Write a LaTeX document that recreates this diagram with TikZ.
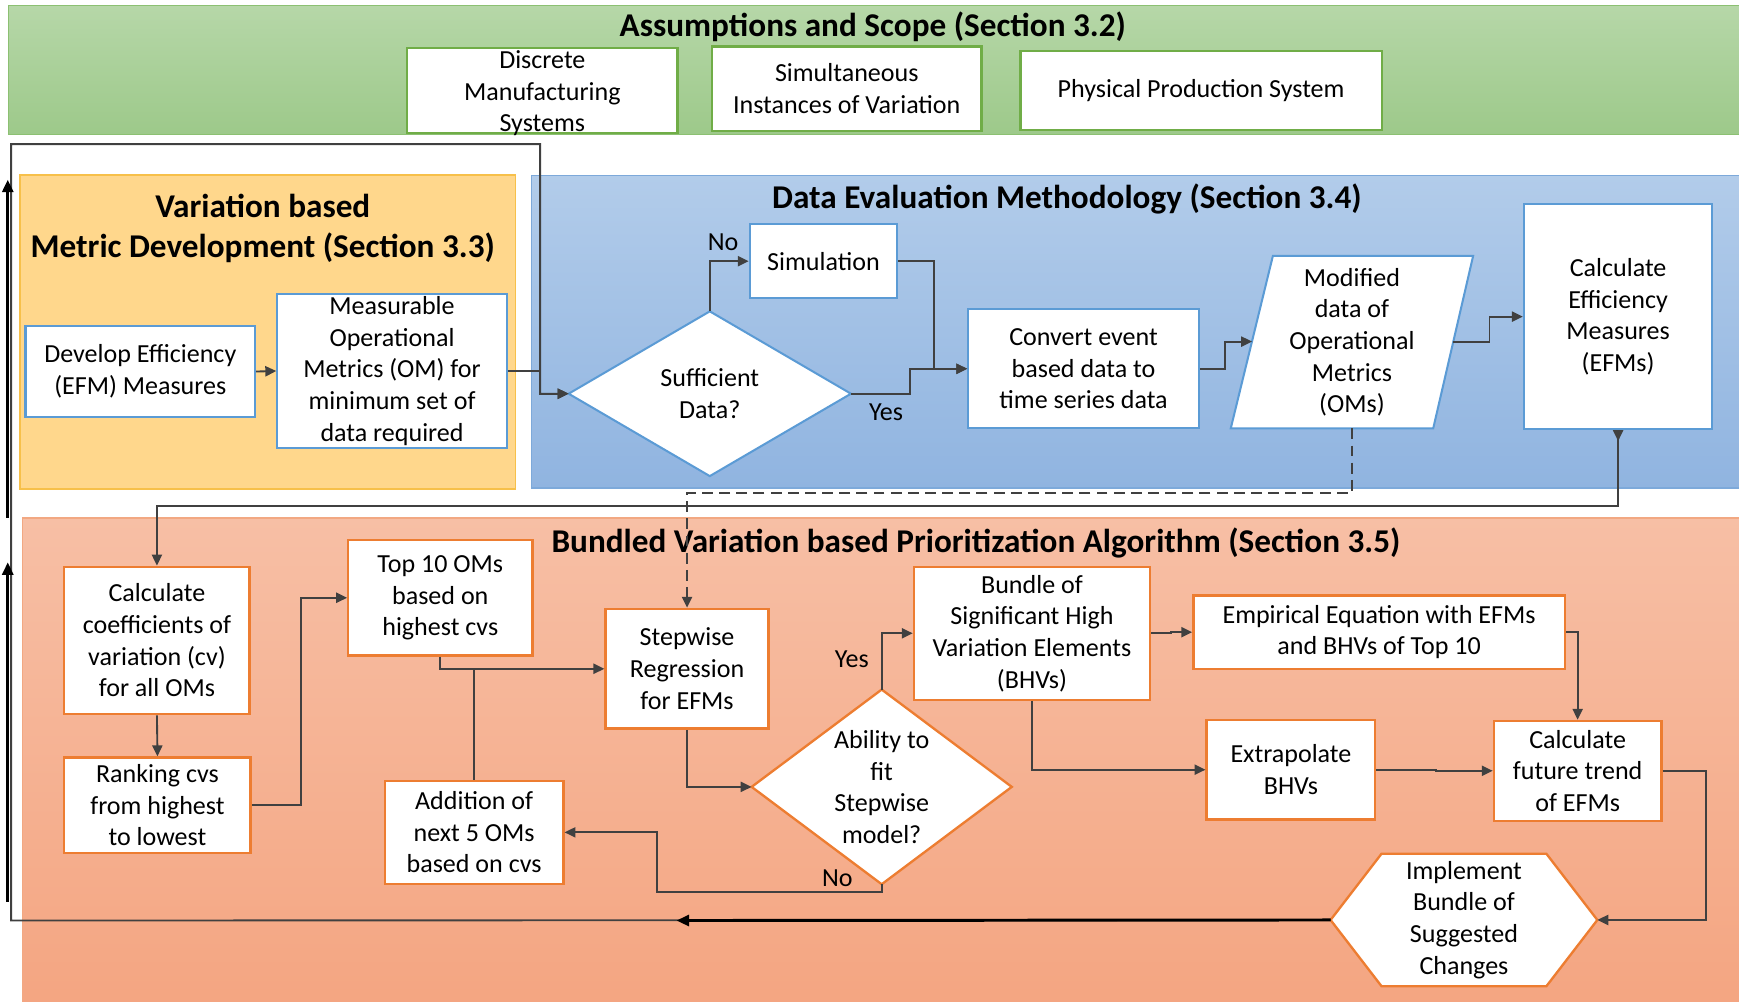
\documentclass[tikz,border=0pt]{standalone}
\usepackage{fontspec}
\setmainfont{Carlito}
\usetikzlibrary{arrows.meta,calc}

\definecolor{grnTop}{HTML}{B6D7A8}
\definecolor{grnBot}{HTML}{9DC98A}
\definecolor{grnEdge}{HTML}{8CC072}
\definecolor{ylwFill}{HTML}{FFD78C}
\definecolor{ylwEdge}{HTML}{F7C04A}
\definecolor{bluTop}{HTML}{B2CCEA}
\definecolor{bluBot}{HTML}{90B4E0}
\definecolor{bluEdge}{HTML}{7DA9DA}
\definecolor{orgTop}{HTML}{F7BFA5}
\definecolor{orgBot}{HTML}{F4A581}
\definecolor{orgEdge}{HTML}{F2A882}
\definecolor{boxBlue}{HTML}{5B9BD5}
\definecolor{boxOrange}{HTML}{ED7D31}
\definecolor{boxGreen}{HTML}{70AD47}
\definecolor{lineGray}{HTML}{404040}

\newcommand\bodyfont{\fontsize{16.7}{20.3}\selectfont}
\newcommand\titlefont{\fontsize{21.3}{25.6}\selectfont\bfseries}

\begin{document}
\begin{tikzpicture}[x=0.025cm,y=-0.025cm,
  % a node spanning the corners (#1,#2) and (#3,#4)
  span/.style n args={4}{at={($(#1,#2)!0.5!(#3,#4)$)},
    minimum width={(#3-#1)*0.025cm},minimum height={(#4-#2)*0.025cm}},
  tip/.style={-{Triangle[length=7pt,width=6.5pt]}},
  conn/.style={draw=lineGray,line width=1.2pt,tip},
  boxbase/.style={draw,fill=white,inner sep=0pt,align=center,font=\bodyfont},
  bluebox/.style={boxbase,draw=boxBlue,line width=1.3pt},
  orangebox/.style={boxbase,draw=boxOrange,line width=1.5pt},
  greenbox/.style={boxbase,draw=boxGreen,line width=1.5pt},
  frame/.style={inner sep=0pt},
  txt/.style={align=center,font=\bodyfont,inner sep=0pt},
  ttl/.style={align=center,font=\titlefont,inner sep=0pt},
]
\useasboundingbox (0,0) rectangle (1568,903);

% ---- section bands ----
\draw[draw=grnEdge,line width=0.8pt,top color=grnTop,bottom color=grnBot] (8,5) rectangle (1575,121);
\draw[draw=ylwEdge,line width=1pt,fill=ylwFill] (18,158) rectangle (465,441);
\draw[draw=bluEdge,line width=0.8pt,top color=bluTop,bottom color=bluBot] (479,158) rectangle (1575,440);
\draw[draw=orgEdge,line width=0.8pt,top color=orgTop,bottom color=orgBot] (20,467) rectangle (1575,910);

% ---- section titles ----
\node[ttl] (tA) at (787,24) {Assumptions and Scope (Section 3.2)};
\node[ttl] (tM) at (237,206) {Variation based\\Metric Development (Section 3.3)};
\node[ttl] (tD) at (962,179) {Data Evaluation Methodology (Section 3.4)};
\node[ttl] (tB) at (880,490) {Bundled Variation based Prioritization Algorithm (Section 3.5)};

% ---- assumptions ----
\node[greenbox,span={367}{43}{611}{120}] (dms) {};
\node[txt] (dmsT) at (489,84) {Discrete\\Manufacturing\\Systems};
\node[greenbox,span={642}{42}{885}{118}] (siv) {Simultaneous\\Instances of Variation};
\node[greenbox,span={920}{46}{1246}{117}] (pps) {Physical Production System};

% ---- metric development ----
\node[bluebox,span={23}{294}{230}{376}] (dev) {Develop Efficiency\\(EFM) Measures};
\node[bluebox,span={250}{265}{457}{404}] (meas) {Measurable\\Operational\\Metrics (OM) for\\minimum set of\\data required};

% ---- data evaluation ----
\node[bluebox,span={676}{202}{809}{269}] (sim) {Simulation};
\node[frame,span={513}{281}{767}{429}] (suf) {};
\draw[draw=boxBlue,line width=1.3pt,fill=white] (suf.west) -- (suf.north) -- (suf.east) -- (suf.south) -- cycle;
\node[txt] (sufT) at (suf.center) {Sufficient\\Data?};
\node[bluebox,span={873}{279}{1081}{386}] (conv) {Convert event\\based data to\\time series data};
\node[frame,span={1110}{231}{1328}{386}] (mod) {};
\draw[draw=boxBlue,line width=1.3pt,fill=white]
  ($(mod.north west)+(38,0)$) -- (mod.north east) -- ($(mod.south east)+(-36,0)$) -- (mod.south west) -- cycle;
\node[txt] (modT) at (mod.center) {Modified\\data of\\Operational\\Metrics\\(OMs)};
\coordinate (modL) at (1129,308);
\coordinate (modR) at (1310,308);
\node[bluebox,span={1374}{184}{1544}{387}] (efm) {Calculate\\Efficiency\\Measures\\(EFMs)};

% ---- prioritization algorithm ----
\node[orangebox,span={58}{511}{225}{644}] (coef) {Calculate\\coefficients of\\variation (cv)\\for all OMs};
\node[orangebox,span={58}{683}{226}{769}] (rank) {Ranking cvs\\from highest\\to lowest};
\node[orangebox,span={314}{487}{480}{591}] (top) {Top 10 OMs\\based on\\highest cvs};
\node[orangebox,span={546}{549}{693}{657}] (sw) {Stepwise\\Regression\\for EFMs};
\node[orangebox,span={347}{704}{508}{797}] (add) {Addition of\\next 5 OMs\\based on cvs};
\node[frame,span={678}{622}{912}{797}] (fit) {};
\draw[draw=boxOrange,line width=1.5pt,fill=white] (fit.west) -- (fit.north) -- (fit.east) -- (fit.south) -- cycle;
\node[txt] (fitT) at (fit.center) {Ability to\\fit\\Stepwise\\model?};
\node[orangebox,span={824}{511}{1037}{631}] (bun) {Bundle of\\Significant High\\Variation Elements\\(BHVs)};
\node[orangebox,span={1076}{537}{1411}{603}] (emp) {Empirical Equation with EFMs\\and BHVs of Top 10};
\node[orangebox,span={1088}{649}{1240}{739}] (ext) {Extrapolate\\BHVs};
\node[orangebox,span={1347}{650}{1498}{740}] (fut) {Calculate\\future trend\\of EFMs};
\node[frame,span={1200}{770}{1440}{889}] (hex) {};
\draw[draw=boxOrange,line width=1.5pt,fill=white]
  (hex.west) -- ($(hex.north west)+(46,0)$) -- ($(hex.north east)+(-46,0)$) -- (hex.east)
  -- ($(hex.south east)+(-46,0)$) -- ($(hex.south west)+(46,0)$) -- cycle;
\node[txt] (hexT) at (hex.center) {Implement\\Bundle of\\Suggested\\Changes};

% ---- branch labels ----
\node[txt] (lNo1) at (652,218) {No};
\node[txt] (lYes1) at (799,372) {Yes};
\node[txt] (lYes2) at (768,594) {Yes};
\node[txt] (lNo2) at (755,792) {No};

% ---- connectors: metric development and data evaluation ----
\draw[conn] (dev.east) -- (meas.west);
\draw[conn] (meas.east) -- ++(29,0) |- (suf.west);
\draw[conn] (suf.north) |- (sim.west);
\draw[conn] (sim.east) -- ++(32,0) |- (conv.west);
\draw[conn] (suf.east) -- ++(53,0) |- (conv.west);
\draw[conn] (conv.east) -- ++(23,0) |- (modL);
\draw[conn] (modR) -- ++(33,0) |- (efm.west);
\draw[conn,dash pattern=on 7pt off 4pt] (mod.south) -- ++(0,58) -| (sw.north);
\draw[draw=lineGray,line width=1.2pt,{Triangle[reversed,length=7pt,width=6.5pt]}-{Triangle[length=7pt,width=6.5pt]}]
  (efm.south) -- ++(0,68) -| (coef.north);

% ---- connectors: prioritization algorithm ----
\draw[conn] (coef.south) -- (rank.north);
\draw[conn] (rank.east) -- ++(44,0) |- (top.west);
\draw[conn] (top.south) |- (sw.west);
\draw[draw=lineGray,line width=1.2pt] (add.north) -- (add.north |- sw.west);
\draw[conn] (sw.south) |- (fit.west);
\draw[conn] (fit.north) |- (bun.west);
\coordinate (noJog) at (592,804);
\draw[conn] (fit.south) |- (noJog) |- (add.east);
\draw[conn] (bun.east) -- ++(18,0) |- (emp.west);
\draw[conn] (bun.south) |- (ext.west);
\draw[conn] (ext.east) -- ++(54,0) |- (fut.west);
\draw[conn] (emp.east) -| (fut.north);
\draw[conn] (fut.east) -- ++(39,0) |- (hex.east);

% ---- feedback loop back to the data check ----
\coordinate (lpA) at (10,830);
\coordinate (lpB) at (10,130);
\coordinate (lpC) at (487,130);
\draw[conn] (hex.west) -- (lpA) -- (lpB) -- (lpC) |- (suf.west);
\coordinate (fbTip) at (610,830);
\draw[black,line width=1.9pt,-{Triangle[length=8pt,width=7pt]}] (hex.west) -- (fbTip);
\coordinate (upA1) at (7,467);
\coordinate (upA2) at (7,162);
\coordinate (upB1) at (7,813);
\coordinate (upB2) at (7,507);
\draw[black,line width=1.9pt,-{Triangle[length=8pt,width=7pt]}] (upA1) -- (upA2);
\draw[black,line width=1.9pt,-{Triangle[length=8pt,width=7pt]}] (upB1) -- (upB2);
\end{tikzpicture}
\end{document}
